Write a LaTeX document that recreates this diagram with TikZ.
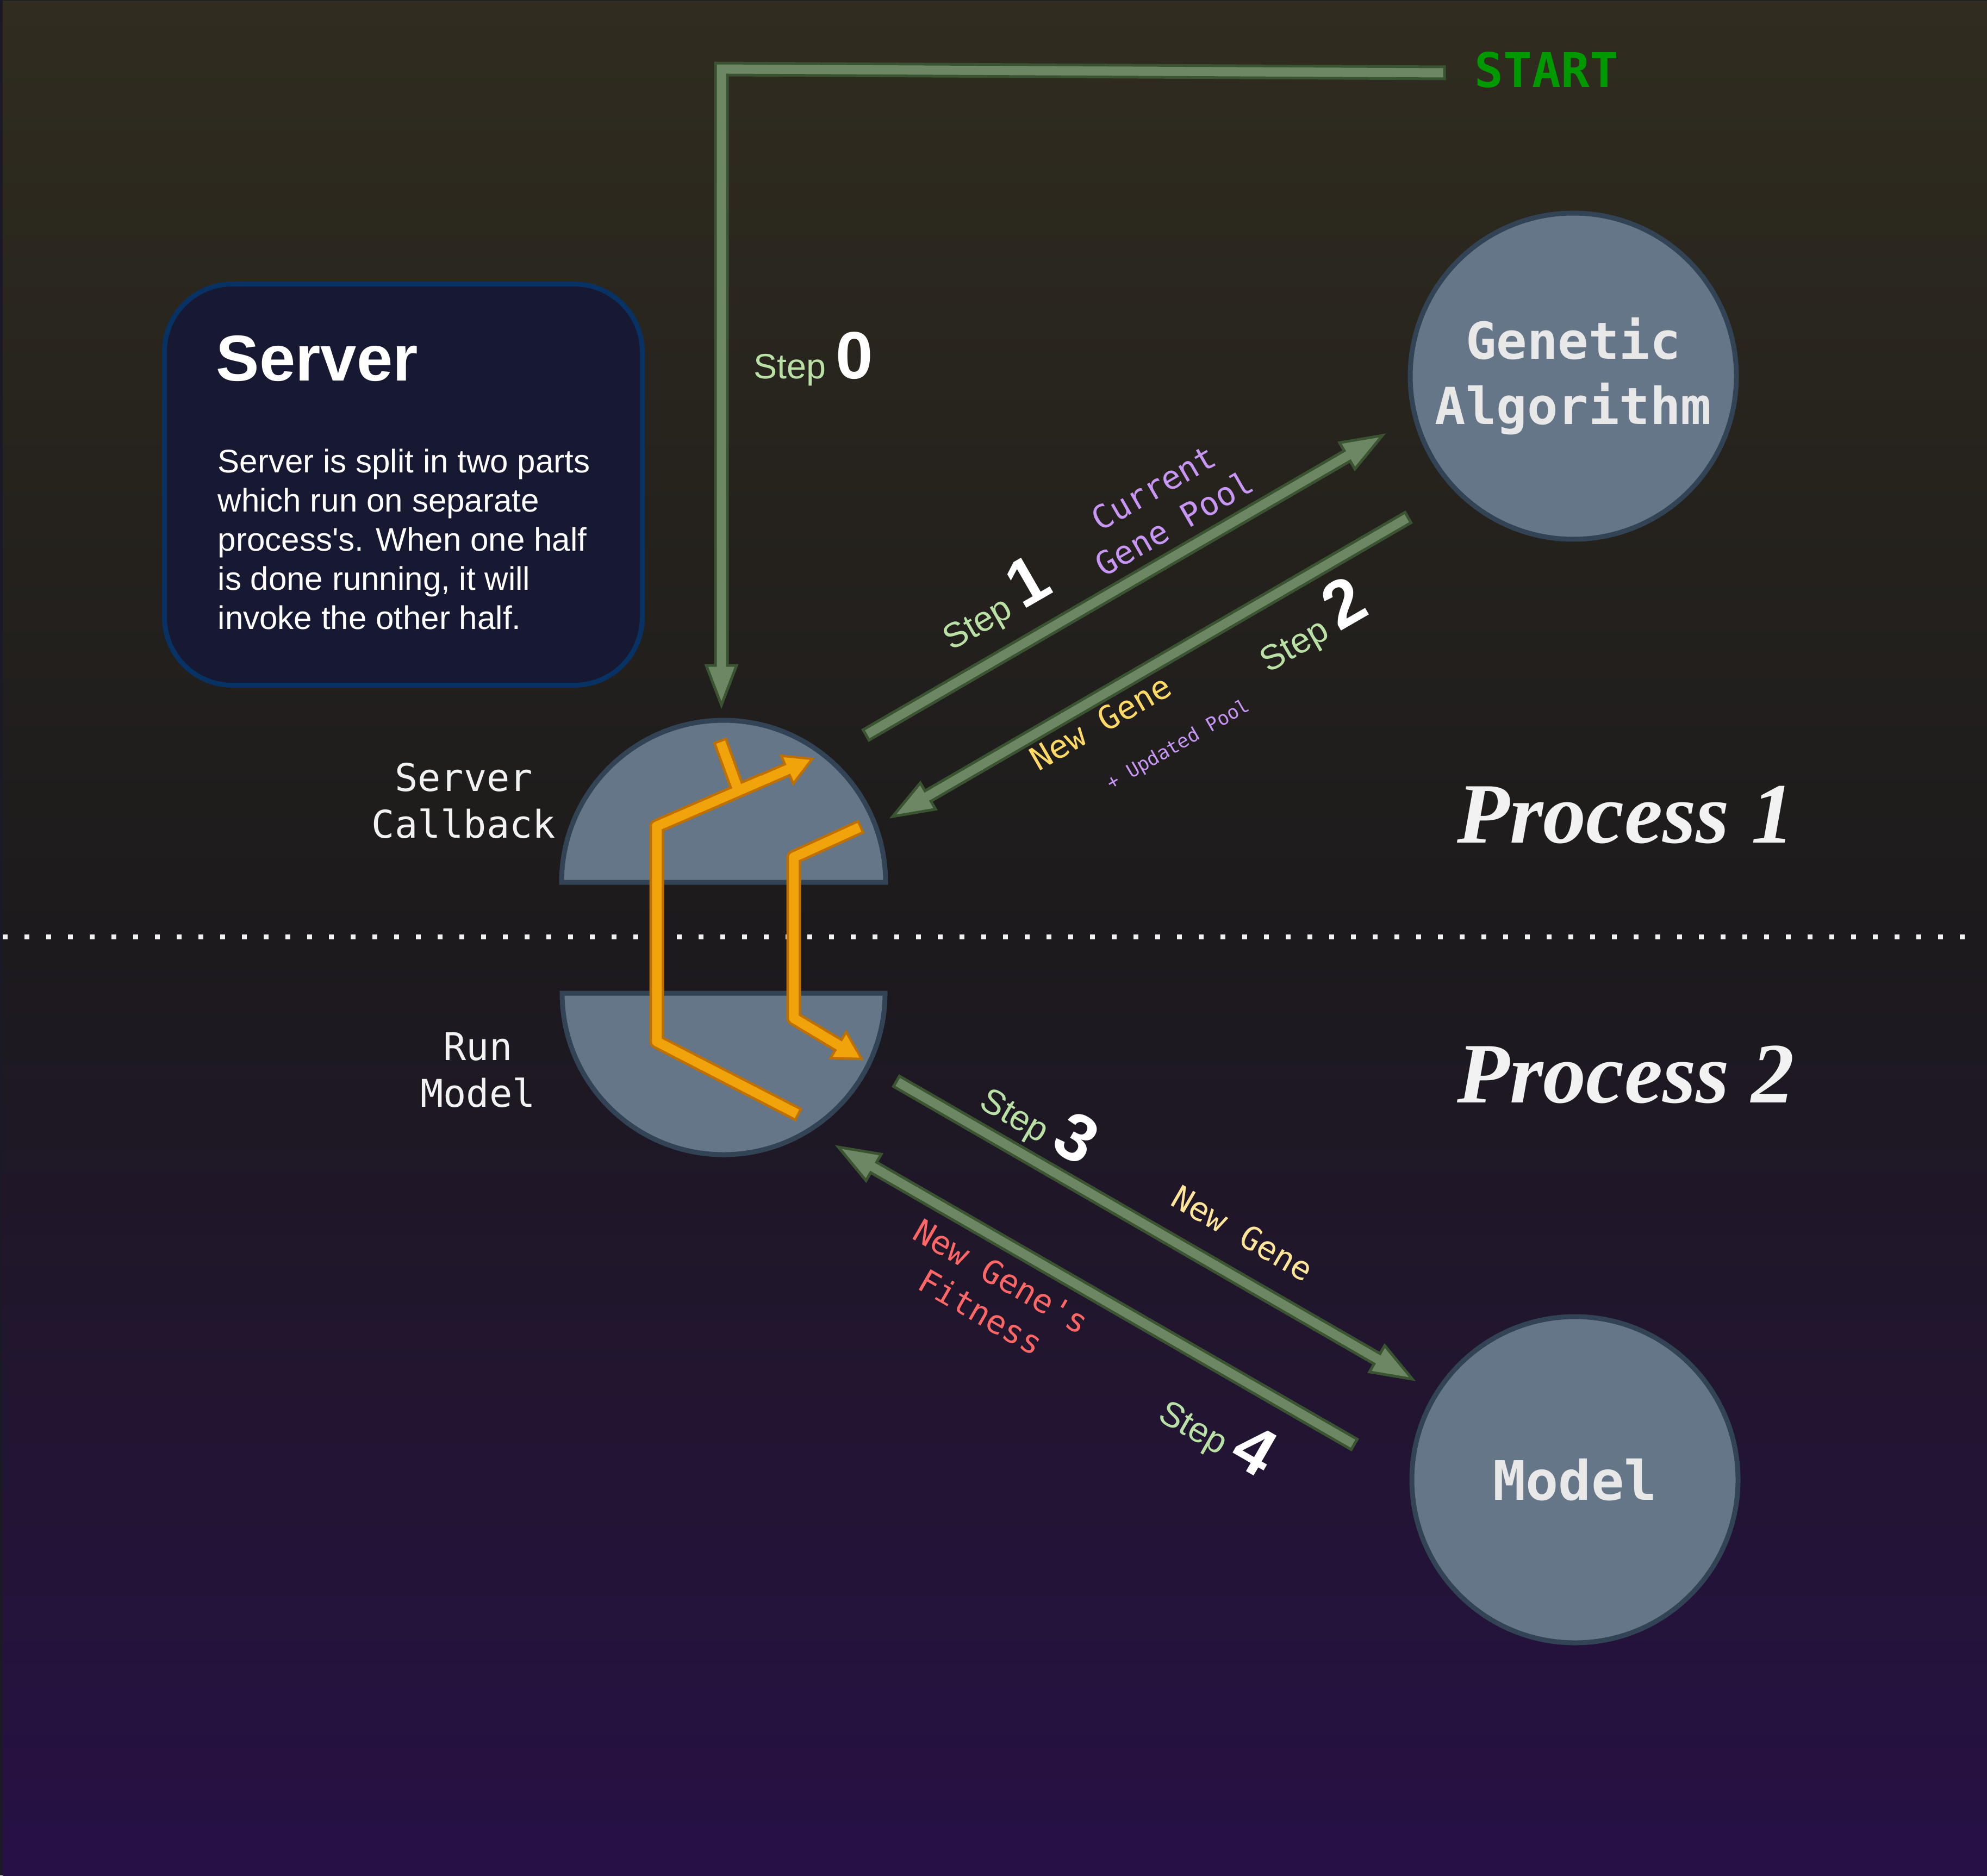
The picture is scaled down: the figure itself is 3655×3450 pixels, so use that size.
\documentclass[tikz,border=0pt]{standalone}
\usepackage{fontspec}
\setmainfont{Liberation Sans}
\setmonofont{DejaVu Sans Mono}
\newfontfamily\seriffont{Liberation Serif}
\usetikzlibrary{calc}
\definecolor{bgedge}{RGB}{26,25,38}
\definecolor{bgtop}{RGB}{48,44,31}
\definecolor{bgmid}{RGB}{28,26,28}
\definecolor{bgbot}{RGB}{39,16,70}
\definecolor{boxfill}{RGB}{23,24,50}
\definecolor{boxline}{RGB}{8,50,100}
\definecolor{nodefill}{RGB}{100,118,135}
\definecolor{nodeline}{RGB}{49,67,84}
\definecolor{nodetxt}{RGB}{232,232,232}
\definecolor{arrfill}{RGB}{109,135,100}
\definecolor{arrline}{RGB}{58,84,49}
\definecolor{orfill}{RGB}{240,163,10}
\definecolor{orline}{RGB}{189,112,0}
\definecolor{steptxt}{RGB}{185,224,165}
\definecolor{pooltxt}{RGB}{200,150,245}
\definecolor{genetxt}{RGB}{255,217,102}
\definecolor{genetxtb}{RGB}{255,229,153}
\definecolor{fittxt}{RGB}{255,102,102}
\definecolor{starttxt}{RGB}{0,153,0}
\definecolor{softwhite}{RGB}{242,242,242}

\newcommand\steplabel[1]{{\color{steptxt}\fontsize{18.4}{22}\selectfont Step\ }{\color{white}\bfseries\fontsize{35}{42}\selectfont #1}}

% green arrow with a block head, #1 tail, #2 tip
\newcommand\flexarrow[2]{%
  \coordinate (fa) at ($(#2)!7.5mm!(#1)$);
  \filldraw[greenarrow] ($(#1)!1.1mm!90:(#2)$) -- ($(fa)!1.1mm!-90:(#1)$)
    -- ($(fa)!2.8mm!-90:(#1)$) -- (#2) -- ($(fa)!2.8mm!90:(#1)$)
    -- ($(fa)!1.1mm!90:(#1)$) -- ($(#1)!1.1mm!-90:(#2)$) -- cycle;
}

\tikzset{
  greenarrow/.style={fill=arrfill, draw=arrline, line width=0.5mm, line join=miter},
  bubble/.style={circle, fill=nodefill, draw=nodeline, line width=0.9mm, minimum size=60mm,
    inner sep=0, align=center, text=nodetxt, font=\ttfamily\bfseries\fontsize{26.7}{34}\selectfont},
  half/.style={fill=nodefill, draw=nodeline, line width=0.9mm},
  serverbox/.style={draw=boxline, fill=boxfill, line width=0.9mm, rounded corners=12.5mm,
    minimum width=87.9mm, minimum height=73.8mm},
  sidetag/.style={align=center, inner sep=0, text=softwhite, font=\ttfamily\fontsize{20}{24.5}\selectfont},
  datatag/.style={align=center, inner sep=0, font=\ttfamily\fontsize{17}{21.6}\selectfont},
  proctag/.style={anchor=base west, inner sep=0, text=softwhite,
    font=\seriffont\bfseries\itshape\fontsize{45}{54}\selectfont},
  dotline/.style={draw=softwhite, line width=0.9mm, dash pattern=on 0.9mm off 3.1mm},
  orout/.style={draw=orline, line width=2.7mm, line join=round},
  orin/.style={draw=orfill, line width=1.75mm, line join=round, shorten <=0.45mm},
  orhead/.style={fill=orfill, draw=orline, line width=0.45mm, line join=miter}
}

\begin{document}
\begin{tikzpicture}[x=0.1mm, y=-0.1mm]
  \useasboundingbox (0,0) rectangle (3655,3450);
  % background
  \fill[bgedge] (0,0) rectangle (3655,3450);
  \fill[top color=bgtop, bottom color=bgmid] (5,2) rectangle (3655,1723);
  \fill[top color=bgmid, bottom color=bgbot] (5,1723) rectangle (3655,3450);
  \draw[dotline] (5,1723) -- (3625,1723);

  % server note
  \node[serverbox] (server) at (742,891.5) {};
  \node[anchor=base west, inner sep=0, text=white, font=\bfseries\fontsize{33.9}{40}\selectfont] (server-title) at (397,700) {Server};
  \node[anchor=north west, inner sep=0, text=white, align=left, font=\fontsize{17.1}{20.5}\selectfont] (server-text) at (400,825)
    {Server is split in two parts\\which run on separate\\process\textquotesingle s. When one half\\is done running, it will\\invoke the other half.};

  % nodes
  \node[bubble] (ga) at (2894,692) {Genetic\\Algorithm};
  \node[bubble, font=\ttfamily\bfseries\fontsize{28.5}{34}\selectfont] (model) at (2897,2722) {Model};
  \filldraw[half] (1033,1623) arc[start angle=180, end angle=360, radius=298] -- cycle;
  \filldraw[half] (1034,1827) arc[start angle=180, end angle=0, radius=297] -- cycle;
  \node[sidetag] (callback-label) at (853,1473) {Server\\Callback};
  \node[sidetag] (run-label) at (879,1968) {Run\\Model};
  \node[proctag] (p1) at (2680,1550) {Process 1};
  \node[proctag] (p2) at (2680,2028) {Process 2};
  \node[text=starttxt, font=\ttfamily\bfseries\fontsize{25}{30}\selectfont] (start) at (2845,129) {START};

  % orange flow inside the server
  \coordinate (o1a) at (1470,2051);
  \coordinate (o1b) at (1208,1916);
  \coordinate (o1c) at (1208,1520);
  \coordinate (o1tip) at (1494,1396);
  \coordinate (o2a) at (1324,1361);
  \coordinate (o2b) at (1358,1454);
  \coordinate (o3a) at (1585,1520);
  \coordinate (o3b) at (1460,1577);
  \coordinate (o3c) at (1460,1873);
  \coordinate (o3tip) at (1585,1948);
  \coordinate (o1h) at ($(o1tip)!5mm!(o1c)$);
  \coordinate (o3h) at ($(o3tip)!5mm!(o3c)$);
  \draw[orout] (o1a) -- (o1b) -- (o1c) -- (o1h);
  \draw[orout] (o2a) -- (o2b) -- ($(o2b)!0.5!(o1h)$);
  \draw[orout] (o3a) -- (o3b) -- (o3c) -- (o3h);
  \filldraw[orhead] ($(o1h)!2.8mm!90:(o1tip)$) -- (o1tip) -- ($(o1h)!2.8mm!-90:(o1tip)$) -- cycle;
  \filldraw[orhead] ($(o3h)!2.8mm!90:(o3tip)$) -- (o3tip) -- ($(o3h)!2.8mm!-90:(o3tip)$) -- cycle;
  \draw[orin] (o1a) -- (o1b) -- (o1c) -- ($(o1h)!0.7mm!(o1tip)$);
  \draw[orin] (o2a) -- (o2b) -- ($(o2b)!0.5!(o1h)$);
  \draw[orin] (o3a) -- (o3b) -- (o3c) -- ($(o3h)!0.7mm!(o3tip)$);

  % step arrows
  \coordinate (s0-tail) at (2657,134);
  \coordinate (s0-bend) at (1327,127);
  \coordinate (s0-tip) at (1327,1297);
  \filldraw[greenarrow] ($(s0-tail)+(0,-11)$) -- ($(s0-bend)+(-11,-11)$) -- ($(s0-tip)+(-11,-73)$)
    -- ($(s0-tip)+(-28,-73)$) -- (s0-tip) -- ($(s0-tip)+(28,-73)$) -- ($(s0-tip)+(11,-73)$)
    -- ($(s0-bend)+(11,11)$) -- ($(s0-tail)+(0,11)$) -- cycle;
  \coordinate (s1-tail) at (1593,1352);
  \coordinate (s1-tip) at (2543,801);
  \coordinate (s2-tail) at (2590,952);
  \coordinate (s2-tip) at (1642,1502);
  \coordinate (s3-tail) at (1649,1989);
  \coordinate (s3-tip) at (2598,2537);
  \coordinate (s4-tail) at (2491,2657);
  \coordinate (s4-tip) at (1542,2110);
  \flexarrow{s1-tail}{s1-tip}
  \flexarrow{s2-tail}{s2-tip}
  \flexarrow{s3-tail}{s3-tip}
  \flexarrow{s4-tail}{s4-tip}

  % labels on the arrows
  \node[anchor=base west, inner sep=0] (s0-label) at (1386,697) {\steplabel{0}};
  \node[rotate=30, inner sep=0] (s1-label) at (1828,1112) {\steplabel{1}};
  \node[rotate=30, inner sep=0] (s2-label) at (2410,1152) {\steplabel{2}};
  \node[rotate=-30, inner sep=0] (s3-label) at (1912,2060) {\steplabel{3}};
  \node[rotate=-30, inner sep=0] (s4-label) at (2240,2635) {\steplabel{4}};
  \node[datatag, text=pooltxt, rotate=30] (pool-label) at (2141,930) {Current\\Gene Pool};
  \node[datatag, text=genetxt, rotate=30] (gene-label) at (2024,1329) {New Gene};
  \node[datatag, text=pooltxt, rotate=30, font=\ttfamily\fontsize{10}{12}\selectfont] (update-label) at (2168,1371) {+ Updated Pool};
  \node[datatag, text=genetxtb, rotate=-30] (gene-label-b) at (2286,2269) {New Gene};
  \node[datatag, text=fittxt, rotate=-30] (fit-label) at (1823,2381) {New Gene\textquotesingle s\\Fitness};
\end{tikzpicture}
\end{document}
